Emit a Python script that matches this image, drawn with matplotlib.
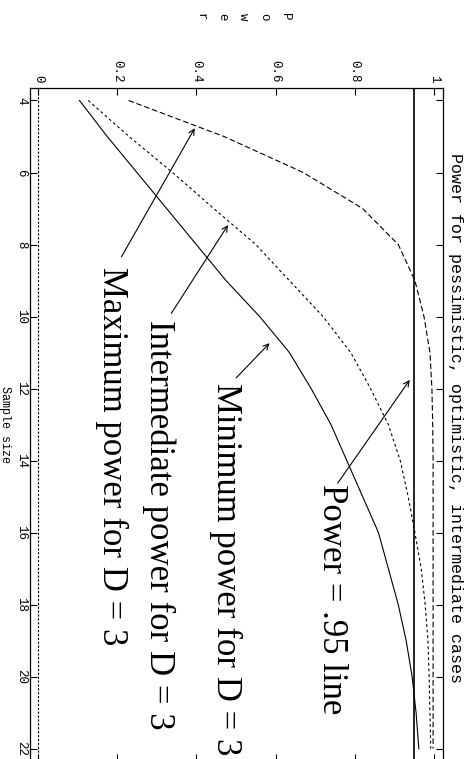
import matplotlib
matplotlib.use("Agg")
import matplotlib.pyplot as plt

plt.rcParams["font.family"] = ["Liberation Mono", "DejaVu Sans Mono"]

# data (sample size runs down the page, power across it)
sample_size = list(range(4, 23))
power_min = [0.105, 0.175, 0.25, 0.325, 0.40, 0.475, 0.56, 0.635, 0.69, 0.74,
             0.78, 0.82, 0.86, 0.885, 0.91, 0.93, 0.945, 0.955, 0.962]
power_mid = [0.127, 0.23, 0.34, 0.444, 0.55, 0.635, 0.72, 0.79, 0.84, 0.885,
             0.915, 0.935, 0.952, 0.968, 0.978, 0.985, 0.988, 0.99, 0.992]
power_max = [0.229, 0.47, 0.67, 0.82, 0.91, 0.952, 0.975, 0.99, 0.995, 0.997,
             0.998, 0.998, 0.998, 0.998, 0.998, 0.998, 0.998, 0.998, 0.998]
power_ref = 0.95
zero_ref = 0.0

power_ticks = [0, 0.2, 0.4, 0.6, 0.8, 1]
power_ticklabels = ["0", "0.2", "0.4", "0.6", "0.8", "1"]
size_ticks = list(range(4, 23, 2))

title = "Power for pessimistic, optimistic, intermediate cases"
notes = ["Maximum power for D = 3", "Intermediate power for D = 3",
         "Minimum power for D = 3", "Power = .95 line"]

# layout of the callouts: (text anchor, arrow tail, arrow head) in data units
note_text_at = [(0.164, 8.63), (0.283, 10.1), (0.452, 11.85), (0.721, 14.65)]
note_tail = [(0.211, 8.34), (0.337, 9.91), (0.501, 11.7), (0.757, 14.63)]
note_head = [(0.396, 4.77), (0.48, 7.46), (0.585, 10.74), (0.939, 11.76)]

fig = plt.figure(figsize=(4.7, 7.59), dpi=100)
ax = fig.add_axes([30 / 470, -1.5 / 759, 413 / 470, 672.5 / 759])

ax.plot(power_min, sample_size, color="k", lw=0.8)
ax.plot(power_mid, sample_size, color="k", lw=0.8, dashes=(2.5, 2.5))
ax.plot(power_max, sample_size, color="k", lw=0.8, dashes=(5, 2.5))
ax.axvline(power_ref, color="k", lw=1.2)
ax.axvline(zero_ref, color="k", lw=0.8, dashes=(2, 1.5))

ax.set_xlim(-0.02, 1.023)
ax.set_ylim(22.33, 3.653)
ax.xaxis.tick_top()
ax.set_xticks(power_ticks)
ax.set_xticklabels(power_ticklabels)
ax.set_yticks(size_ticks)
ax.tick_params(direction="in", top=True, bottom=True, left=True, right=True,
               length=5, width=0.8, labelsize=9)
ax.tick_params(axis="x", labeltop=True, labelbottom=False, labelrotation=-90, pad=4)
ax.tick_params(axis="y", labelrotation=-90, pad=2)
for lab in ax.get_yticklabels():
    lab.set_va("center")
for s in ax.spines.values():
    s.set_linewidth(0.9)

for s, xy, tail, head in zip(notes, note_text_at, note_tail, note_head):
    ax.annotate("", xy=head, xytext=tail,
                arrowprops=dict(arrowstyle="->", lw=0.8, color="k",
                                shrinkA=0, shrinkB=0, mutation_scale=10))
    ax.text(xy[0], xy[1], s, rotation=-90, rotation_mode="anchor",
            ha="left", va="baseline", family="Liberation Serif", fontsize=25)

fig.text(448 / 470, 1 - 418 / 759, title, rotation=-90, ha="left", va="center",
         fontsize=12)
fig.text(5 / 470, 1 - 424.5 / 759, "Sample size", rotation=-90,
         ha="center", va="center", fontsize=8.5)
fig.text(243 / 470, 1 - 16.5 / 759, "P\no\nw\ne\nr", rotation=-90,
         ha="center", va="center", fontsize=9, linespacing=2.0)

fig.savefig("out.png", dpi=100)
